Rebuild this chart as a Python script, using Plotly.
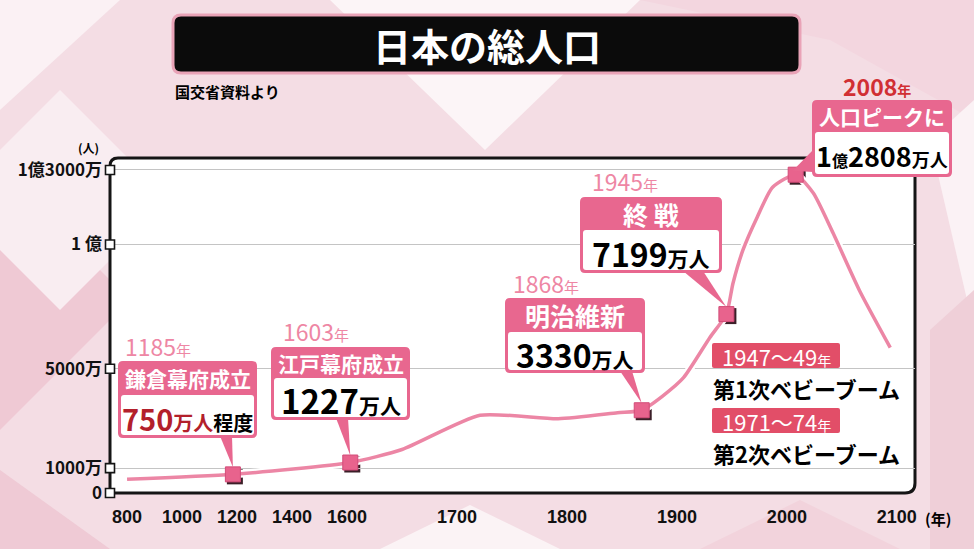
import numpy as np
import plotly.graph_objects as go

# 日本の総人口（万人）: 図から読み取った値
years = [800, 1185, 1603, 1650, 1721, 1792, 1846, 1868, 1887, 1906, 1930, 1945,
         1951, 1960, 1973, 1987, 2008, 2024, 2042, 2066, 2094]
population = [550, 750, 1227, 1750, 3128, 2987, 3230, 3330, 3900, 4640, 6260, 7199,
              8440, 9770, 11100, 12300, 12808, 12070, 10460, 8150, 5850]

# 出来事
event_years = [1185, 1603, 1868, 1945, 2008]
event_values = [750, 1227, 3330, 7199, 12808]
event_names = ["鎌倉幕府成立", "江戸幕府成立", "明治維新", "終 戦", "人口ピークに"]

# 軸（横軸は区間ごとに目盛り幅が違う）
x_tick_years = [800, 1000, 1200, 1400, 1600, 1700, 1800, 1900, 2000, 2100]
x_tick_slots = [0, 1, 2, 3, 4, 6, 8, 10, 12, 14]
y_tick_vals = [0, 1000, 5000, 10000, 13000]
y_tick_text = ["0", "1000万", "5000万", "1 億", "1億3000万"]

boom_periods = ["1947〜49", "1971〜74"]
boom_names = ["第1次ベビーブーム", "第2次ベビーブーム"]


def slot(y):
    return np.interp(y, x_tick_years, x_tick_slots)


W, H = 974, 549
L, R, T, B = 110, 59, 158, 56
PW, PH = W - L - R, H - T - B
XR = [-0.31, 14.33]
YR = [0, 13480]
FONT = "Noto Sans CJK JP"
PINK = "#E8678F"
LINEPINK = "#EC86A5"


def fx(px):
    return (px - L) / PW


def fy(py):
    return (H - B - py) / PH


def mx(u):
    return L + (u - XR[0]) / (XR[1] - XR[0]) * PW


def my(v):
    return T + (YR[1] - v) / (YR[1] - YR[0]) * PH


def rrect(x0, y0, x1, y1, r):
    return (f"M{fx(x0 + r)},{fy(y0)} L{fx(x1 - r)},{fy(y0)} Q{fx(x1)},{fy(y0)} {fx(x1)},{fy(y0 + r)} "
            f"L{fx(x1)},{fy(y1 - r)} Q{fx(x1)},{fy(y1)} {fx(x1 - r)},{fy(y1)} "
            f"L{fx(x0 + r)},{fy(y1)} Q{fx(x0)},{fy(y1)} {fx(x0)},{fy(y1 - r)} "
            f"L{fx(x0)},{fy(y0 + r)} Q{fx(x0)},{fy(y0)} {fx(x0 + r)},{fy(y0)} Z")


def poly(pts):
    return "M" + " L".join(f"{fx(a)},{fy(b)}" for a, b in pts) + " Z"


shapes = []
annotations = []

def pshape(path, fill, line=None, lw=0, layer="below"):
    shapes.append(dict(type="path", xref="paper", yref="paper", path=path, fillcolor=fill,
                       line=dict(color=line or fill, width=lw), layer=layer))


def text(px, py, s, size, color="black", xanchor="center", weight="bold", family=FONT):
    annotations.append(dict(x=fx(px), y=fy(py), xref="paper", yref="paper", text=s, showarrow=False,
                            xanchor=xanchor, yanchor="middle",
                            font=dict(family=family, size=size, color=color, weight=weight)))


# background pattern
for pts, c in [
    ([(0, 0), (120, 0), (0, 110)], "#FBF1F4"),
    ([(0, 170), (130, 300), (0, 430)], "#EFC9D4"),
    ([(60, 90), (170, 200), (60, 310), (-50, 200)], "#F9EDF1"),
    ([(330, 0), (640, 0), (485, 150)], "#FCF5F7"),
    ([(640, 0), (974, 0), (974, 120), (830, 40)], "#F3D6DF"),
    ([(930, 140), (974, 100), (974, 330)], "#FBF2F5"),
    ([(930, 330), (974, 290), (974, 549), (930, 549)], "#EFCFD8"),
    ([(0, 470), (110, 549), (0, 549)], "#EFCAD5"),
    ([(380, 549), (470, 505), (560, 549)], "#FBF3F5"),
    ([(700, 549), (800, 500), (900, 549)], "#F2D3DC"),
]:
    pshape(poly(pts), c)

# plot area + frame
pshape(rrect(L, T, W - R, H - B, 9), "white")
frame = (f"M{fx(L)},{fy(H - B)} L{fx(L)},{fy(T + 8)} Q{fx(L)},{fy(T)} {fx(L + 8)},{fy(T)} "
         f"L{fx(W - R - 10)},{fy(T)} Q{fx(W - R)},{fy(T)} {fx(W - R)},{fy(T + 10)} "
         f"L{fx(W - R)},{fy(H - B - 10)} Q{fx(W - R)},{fy(H - B)} {fx(W - R - 10)},{fy(H - B)} Z")
shapes.append(dict(type="path", xref="paper", yref="paper", path=frame,
                   line=dict(color="#151515", width=3), layer="below"))

# title
pshape(rrect(173, 15, 800, 73, 8), "#0B0B0B", "#E9A3B7", 3)
text(487, 45, "日本の総人口", 38, "white")
text(173, 91, "国交省資料より", 15, xanchor="left")
text(88, 148, "(人)", 12)
text(938, 518, "(年)", 15)

# marker shadows
for ey, ev in zip(event_years, event_values):
    shapes.append(dict(type="rect", xref="x", yref="y", xsizemode="pixel", ysizemode="pixel",
                       xanchor=float(slot(ey)), yanchor=ev, x0=-6, x1=10, y0=-10, y1=6,
                       fillcolor="#3B1F28", line=dict(width=0), layer="below"))

# callout boxes (pixel layout)
boxes = [
    dict(l=118, r=257, t=361, m=395, b=438, base=(220, 232), yl=(123, 346)),
    dict(l=271, r=410, t=347, m=378, b=420, base=(336, 348), yl=(281, 331)),
    dict(l=505, r=645, t=298, m=332, b=373, base=(620, 632), yl=(511, 283)),
    dict(l=580, r=722, t=197, m=230, b=273, base=(683, 703), yl=(590, 181)),
    dict(l=812, r=952, t=100, m=132, b=177, base=None, yl=None),
]
bodies = [
    '<span style="font-size:29px;color:#B3202B">750</span><span style="font-size:20px;color:#B3202B">万人</span><span style="font-size:20px">程度</span>',
    '<span style="font-size:33px">1227</span><span style="font-size:21px">万人</span>',
    '<span style="font-size:32px">3330</span><span style="font-size:21px">万人</span>',
    '<span style="font-size:32px">7199</span><span style="font-size:21px">万人</span>',
    '<span style="font-size:27px">1</span><span style="font-size:16px">億</span><span style="font-size:27px">2808</span><span style="font-size:18px">万人</span>',
]
head_sizes = [21, 21, 25, 25, 21]

for ey, ev, name, bx, body, hs in zip(event_years, event_values, event_names, boxes, bodies, head_sizes):
    tx, ty = mx(slot(ey)), my(ev)
    if bx["base"]:
        b0, b1 = bx["base"]
        pshape(poly([(b0, bx["b"] - 2), (b1, bx["b"] - 2), (tx, ty - 7)]), PINK, layer="above")
    else:
        pshape(poly([(bx["l"] + 1, 150), (bx["l"] + 1, 172), (tx - 3, ty - 4)]), PINK, layer="above")
    pshape(rrect(bx["l"], bx["t"], bx["r"], bx["b"], 5), PINK, layer="above")
    pshape(rrect(bx["l"] + 3, bx["m"], bx["r"] - 3, bx["b"] - 3, 3), "white", layer="above")
    text((bx["l"] + bx["r"]) / 2, (bx["t"] + bx["m"]) / 2, name, hs, "white")
    text((bx["l"] + bx["r"]) / 2, (bx["m"] + bx["b"]) / 2 + 1, body, 18)
    if bx["yl"]:
        text(bx["yl"][0], bx["yl"][1], f'{ey}<span style="font-size:15px">年</span>', 23,
             "#EE86A4", xanchor="left", weight="normal")
text(877, 86, '2008<span style="font-size:14px">年</span>', 23, "#D12F33")

# baby boom notes
for i, (per, nm) in enumerate(zip(boom_periods, boom_names)):
    top = 343 + i * 65
    pshape(rrect(712, top, 840, top + 25, 2), "#E24E68", layer="above")
    text(776, top + 13, f'{per}<span style="font-size:14px">年</span>', 22, "white", weight="normal")
    text(711, top + 45, nm, 22, xanchor="left")

fig = go.Figure()
fig.add_trace(go.Scatter(x=slot(years), y=population, mode="lines",
                         line=dict(color="white", width=8, shape="spline", smoothing=0.6),
                         hoverinfo="skip"))
fig.add_trace(go.Scatter(x=slot(years), y=population, mode="lines",
                         line=dict(color=LINEPINK, width=3.5, shape="spline", smoothing=0.6)))
fig.add_trace(go.Scatter(x=slot(event_years), y=event_values, mode="markers",
                         marker=dict(symbol="square", size=15, color="#E8638D",
                                     line=dict(color="#D24C78", width=1))))
fig.add_trace(go.Scatter(x=[XR[0]] * len(y_tick_vals), y=y_tick_vals, mode="markers", cliponaxis=False,
                         marker=dict(symbol="square", size=9, color="white",
                                     line=dict(color="#151515", width=1.6))))

fig.update_layout(
    width=W, height=H, margin=dict(l=L, r=R, t=T, b=B),
    paper_bgcolor="#F4DDE4", plot_bgcolor="rgba(0,0,0,0)",
    showlegend=False, shapes=shapes, annotations=annotations,
    font=dict(family=FONT),
)
fig.update_xaxes(range=XR, tickvals=x_tick_slots, ticktext=[str(y) for y in x_tick_years],
                 showgrid=False, zeroline=False, showline=False, ticks="", ticklabelstandoff=11,
                 tickfont=dict(family="Liberation Sans", size=18, color="#111", weight="bold"))
fig.update_yaxes(range=YR, tickvals=y_tick_vals, ticktext=y_tick_text,
                 showgrid=True, gridcolor="#C4C4C4", gridwidth=1, zeroline=False, showline=False,
                 ticks="", ticklabelstandoff=7,
                 tickfont=dict(family=FONT, size=17, color="#111", weight="bold"))

fig.write_html("out.html", config={"displayModeBar": False},
               post_script="document.body.style.margin='0';")
